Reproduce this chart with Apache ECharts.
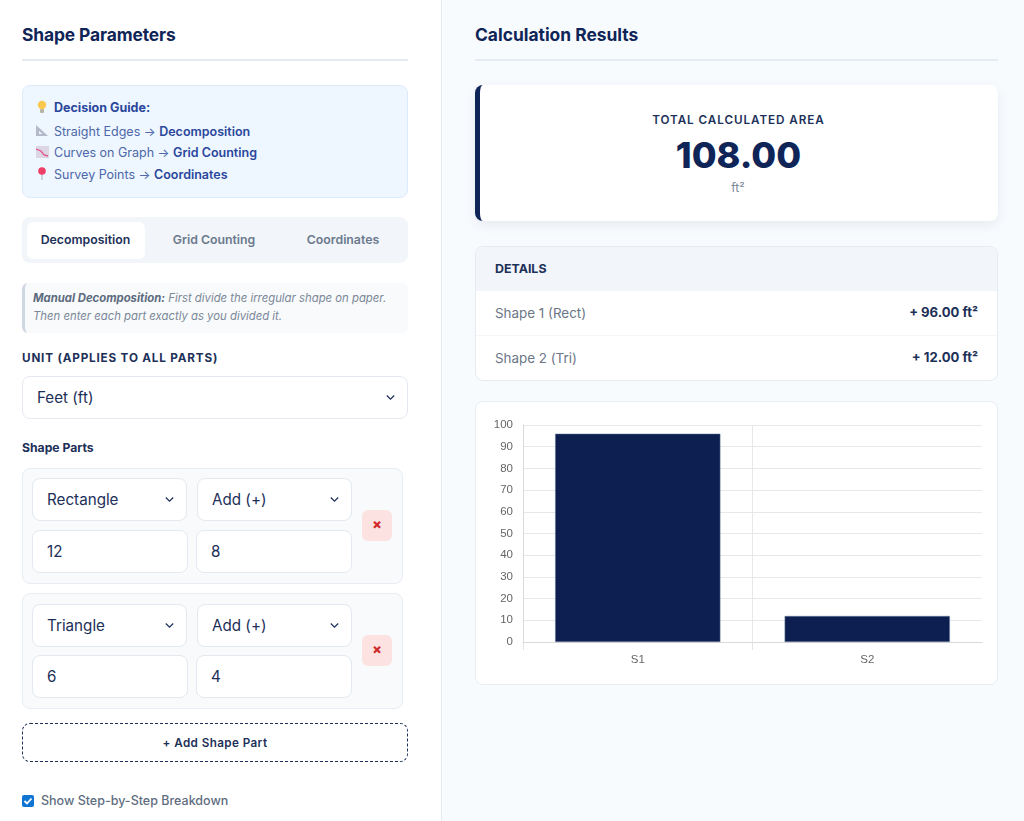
<!DOCTYPE html>
<html>
<head>
<meta charset="utf-8">
<title>Calculation Results</title>
<script src="https://cdn.jsdelivr.net/npm/echarts@6/dist/echarts.min.js"></script>
<style>
html, body { margin: 0; padding: 0; width: 1024px; height: 821px; overflow: hidden; background: #f8fbfe; font-family: Inter, "Noto Sans", sans-serif; color: #0f2557; }
div, span, svg { box-sizing: border-box; }
.a { position: absolute; }
.t { position: absolute; white-space: nowrap; transform: translateY(-50%); line-height: 1.2; }
.c { transform: translate(-50%, -50%); }
.r { transform: translate(-100%, -50%); }
.h2 { font-size: 17.4px; font-weight: 700; }
.rule { height: 2px; background: #e5ebf1; }
.field { position: absolute; background: #fff; border: 1px solid #e4e9f0; border-radius: 8px; font-size: 15.2px; color: #1c3058; }
.field span { position: absolute; left: 14px; top: 50%; margin-top: -1px; transform: translateY(-50%); white-space: nowrap; }
.field svg { position: absolute; right: 12px; top: 50%; margin-top: -4px; }
.part { position: absolute; left: 22px; width: 381px; height: 116px; background: #f8fafc; border: 1px solid #e8edf3; border-radius: 8px; }
.del { position: absolute; width: 30px; height: 31px; background: #fde2e2; border-radius: 6px; color: #d02a2a; font-size: 14px; font-weight: 800; text-align: center; line-height: 28px; }
.guide { font-size: 12.5px; color: #4d67a8; }
.guide b { color: #2a479b; font-weight: 600; }
.tab { font-size: 12.3px; font-weight: 600; color: #6b7a8d; }
</style>
</head>
<body>
<!-- left panel -->
<div class="a" style="left:0;top:0;width:442px;height:821px;background:#fff;border-right:1px solid #e5ebf1"></div>
<div class="t h2" style="left:22px;top:35px;letter-spacing:-.12px">Shape Parameters</div>
<div class="a rule" style="left:22px;top:59px;width:386px"></div>

<div class="a" style="left:22px;top:85px;width:386px;height:113px;background:#eef6ff;border:1px solid #dcebfb;border-radius:8px"></div>
<svg class="a" style="left:36px;top:100px" width="12" height="14" viewBox="0 0 12 14"><circle cx="6" cy="5" r="4.2" fill="#f9c94e"/><rect x="4" y="9" width="4" height="4" rx="1" fill="#b9b4a2"/></svg>
<div class="t guide" style="left:54px;top:106.5px"><b style="font-weight:700">Decision Guide:</b></div>
<svg class="a" style="left:36px;top:125px" width="13" height="12" viewBox="0 0 13 12"><path d="M0 0 L12 11 L0 11 Z" fill="#b4bac9"/><path d="M3 6 L6.5 9 L3 9 Z" fill="#eef6ff"/></svg>
<div class="t guide" style="left:54px;top:131px">Straight Edges → <b>Decomposition</b></div>
<svg class="a" style="left:36px;top:146px" width="13" height="12" viewBox="0 0 13 12"><rect width="13" height="12" fill="#dcd6e4"/><path d="M0 3 L5 5 L8 9 L12 10" fill="none" stroke="#e0558a" stroke-width="1.3"/></svg>
<div class="t guide" style="left:54px;top:152px">Curves on Graph → <b>Grid Counting</b></div>
<svg class="a" style="left:37px;top:167px" width="10" height="13" viewBox="0 0 10 13"><rect x="4.4" y="6" width="1.2" height="7" fill="#b4bac9"/><circle cx="5" cy="4" r="3.8" fill="#ee3f68"/></svg>
<div class="t guide" style="left:54px;top:173.5px">Survey Points → <b>Coordinates</b></div>

<div class="a" style="left:22px;top:217px;width:386px;height:46px;background:#f2f5f9;border-radius:8px"></div>
<div class="a" style="left:27px;top:222px;width:118px;height:37px;background:#fff;border-radius:6px"></div>
<div class="t c tab" style="left:85.5px;top:240px;color:#1c3058">Decomposition</div>
<div class="t c tab" style="left:214px;top:240px">Grid Counting</div>
<div class="t c tab" style="left:343px;top:240px">Coordinates</div>

<div class="a" style="left:22px;top:283px;width:386px;height:50px;background:#f8fafc;border-left:3px solid #cfd7e2;border-radius:6px"></div>
<div class="t" style="left:33px;top:299px;font-size:11.33px;font-style:italic;color:#7b8797"><b style="color:#5d6b7e">Manual Decomposition:</b> First divide the irregular shape on paper.</div>
<div class="t" style="left:33px;top:317px;font-size:11.33px;font-style:italic;color:#7b8797">Then enter each part exactly as you divided it.</div>

<div class="t" style="left:22px;top:357.5px;font-size:11.7px;font-weight:700;letter-spacing:.83px;color:#1c3058">UNIT (APPLIES TO ALL PARTS)</div>
<div class="field" style="left:22px;top:376px;width:386px;height:43px"><span>Feet (ft)</span><svg width="9" height="7" viewBox="0 0 11 8"><path d="M1 1.5 L5.5 6 L10 1.5" fill="none" stroke="#1c3058" stroke-width="1.5"/></svg></div>
<div class="t" style="left:22px;top:448px;font-size:12.2px;font-weight:700;color:#1c3058">Shape Parts</div>

<div class="part" style="top:468px"></div>
<div class="field" style="left:32px;top:478px;width:155px;height:43px"><span>Rectangle</span><svg width="9" height="7" viewBox="0 0 11 8"><path d="M1 1.5 L5.5 6 L10 1.5" fill="none" stroke="#1c3058" stroke-width="1.5"/></svg></div>
<div class="field" style="left:197px;top:478px;width:155px;height:43px"><span>Add (+)</span><svg width="9" height="7" viewBox="0 0 11 8"><path d="M1 1.5 L5.5 6 L10 1.5" fill="none" stroke="#1c3058" stroke-width="1.5"/></svg></div>
<div class="field" style="left:32px;top:530px;width:156px;height:43px"><span>12</span></div>
<div class="field" style="left:196px;top:530px;width:156px;height:43px"><span>8</span></div>
<div class="del" style="left:362px;top:510px">×</div>

<div class="part" style="top:593px"></div>
<div class="field" style="left:32px;top:604px;width:155px;height:43px"><span>Triangle</span><svg width="9" height="7" viewBox="0 0 11 8"><path d="M1 1.5 L5.5 6 L10 1.5" fill="none" stroke="#1c3058" stroke-width="1.5"/></svg></div>
<div class="field" style="left:197px;top:604px;width:155px;height:43px"><span>Add (+)</span><svg width="9" height="7" viewBox="0 0 11 8"><path d="M1 1.5 L5.5 6 L10 1.5" fill="none" stroke="#1c3058" stroke-width="1.5"/></svg></div>
<div class="field" style="left:32px;top:655px;width:156px;height:43px"><span>6</span></div>
<div class="field" style="left:196px;top:655px;width:156px;height:43px"><span>4</span></div>
<div class="del" style="left:362px;top:635px">×</div>

<div class="a" style="left:22px;top:723px;width:386px;height:39px;border:1px dashed #1c3058;border-radius:8px"></div>
<div class="t c" style="left:215px;top:743px;font-size:11.7px;font-weight:600;letter-spacing:.4px;color:#1c3058">+ Add Shape Part</div>

<div class="a" style="left:22px;top:795px;width:12px;height:12px;background:#0f75d1;border-radius:2px"></div>
<svg class="a" style="left:22px;top:795px" width="12" height="12" viewBox="0 0 12 12"><path d="M2.5 6 L5 8.5 L9.5 3.5" fill="none" stroke="#fff" stroke-width="1.8"/></svg>
<div class="t" style="left:41px;top:800px;font-size:12.5px;font-weight:500;color:#5f6d80">Show Step-by-Step Breakdown</div>

<!-- right panel -->
<div class="t h2" style="left:475px;top:35px">Calculation Results</div>
<div class="a rule" style="left:475px;top:59px;width:523px"></div>

<div class="a" style="left:475px;top:85px;width:523px;height:136px;background:#fff;border-left:5px solid #0f2557;border-radius:8px;box-shadow:0 4px 12px rgba(30,50,90,.08)"></div>
<div class="t c" style="left:738.5px;top:119.5px;font-size:11.7px;font-weight:600;letter-spacing:.93px;color:#1c3058">TOTAL CALCULATED AREA</div>
<div class="t c" style="left:738.5px;top:156px;font-size:36px;font-weight:800;color:#0f2557">108.00</div>
<div class="t c" style="left:738px;top:187.5px;font-size:12.2px;color:#7b8797">ft²</div>

<div class="a" style="left:475px;top:246px;width:523px;height:135px;background:#fff;border:1px solid #e5ebf1;border-radius:8px;overflow:hidden">
  <div style="height:44px;background:#f2f5f9"></div>
  <div style="position:absolute;left:0;right:0;top:88px;height:1px;background:#f4f6f9"></div>
</div>
<div class="t" style="left:495px;top:268.5px;font-size:12.4px;font-weight:700;color:#1c3058">DETAILS</div>
<div class="t" style="left:495px;top:313px;font-size:13.4px;color:#6b7686">Shape 1 (Rect)</div>
<div class="t r" style="left:978px;top:313px;font-size:13.1px;font-weight:700;color:#1c3058">+ 96.00 ft²</div>
<div class="t" style="left:495px;top:358px;font-size:13.4px;color:#6b7686">Shape 2 (Tri)</div>
<div class="t r" style="left:978px;top:358px;font-size:13.1px;font-weight:700;color:#1c3058">+ 12.00 ft²</div>

<div class="a" style="left:475px;top:401px;width:523px;height:284px;background:#fff;border:1px solid #e8edf3;border-radius:8px"></div>
<div id="chart" class="a" style="left:476px;top:402px;width:521px;height:282px"></div>

<script>
var categories = ['S1', 'S2'];
var areaValues = [96, 12];

var chart = echarts.init(document.getElementById('chart'), null, { renderer: 'canvas' });
chart.setOption({
    animation: false,
    grid: { left: 47, right: 15, top: 23, bottom: 42 },
    xAxis: [{
        type: 'category',
        data: categories,
        axisLine: { lineStyle: { color: '#d9d9d9', width: 1 } },
        axisTick: { show: false },
        axisLabel: { color: '#666', fontFamily: 'Liberation Sans', fontSize: 11.5, margin: 12 },
        splitLine: { show: true, showMaxLine: false, lineStyle: { color: '#e8e8e8', width: 1 } }
    }, {
        // only carries the ticks: the chart has none at the right end
        type: 'value',
        position: 'bottom',
        min: 0,
        max: 2,
        interval: 1,
        axisLine: { show: false },
        axisTick: { show: true, length: 8, customValues: [0, 1], lineStyle: { color: '#e3e3e3' } },
        axisLabel: { show: false },
        splitLine: { show: false }
    }],
    yAxis: {
        type: 'value',
        min: 0,
        max: 100,
        interval: 10,
        axisLine: { show: true, lineStyle: { color: '#d9d9d9', width: 1 } },
        axisTick: { show: false },
        axisLabel: { color: '#666', fontFamily: 'Liberation Sans', fontSize: 11.5, margin: 10 },
        splitLine: { show: true, lineStyle: { color: '#e8e8e8', width: 1 } }
    },
    series: [{
        type: 'bar',
        xAxisIndex: 0,
        data: areaValues,
        barCategoryGap: '28%',
        itemStyle: { color: '#0c1f50', borderColor: '#6f7f9f', borderWidth: 0.5 }
    }]
});
</script>
</body>
</html>
